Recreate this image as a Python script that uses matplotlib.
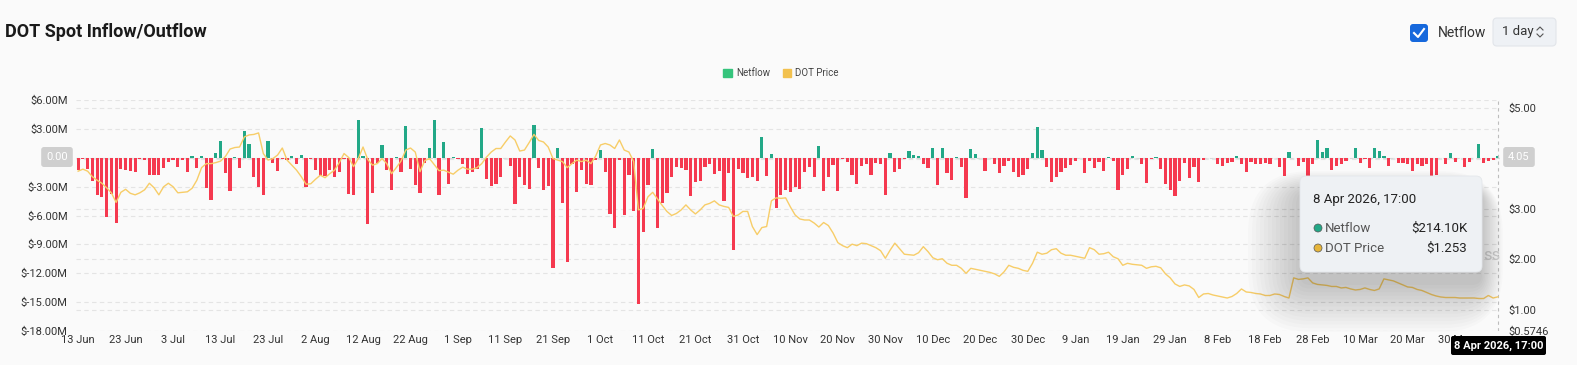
import matplotlib
matplotlib.use("Agg")
import matplotlib.pyplot as plt
import matplotlib.transforms as mtransforms
from matplotlib.patches import FancyBboxPatch, Patch, Circle
from matplotlib.lines import Line2D
import numpy as np
import pandas as pd

plt.rcParams['font.family'] = ['Roboto', 'DejaVu Sans']

# daily netflow in $M, 13 Jun 2025 -> 8 Apr 2026
netflow = [
    -1.25, -0.15, -1.2, -2.4, -3.9, -4.1, -6.2, -3.8, -6.8, -1.2,
    -1.3, -1.4, -1.5, -0.1, -0.2, -1.8, -1.8, -1.8, -1.1, -0.4,
    -0.2, -1.0, -0.2, -1.5, 0.2, -1.1, 0.2, -3.1, -4.4, 0.5,
    1.7, -1.6, -3.5, 0.05, -1.1, 2.8, 1.4, -2.0, -3.0, -3.9,
    1.7, -0.55, -1.35, -0.1, -0.2, 0.2, -0.7, 0.3, -3.0, -0.1,
    -1.25, -1.9, -1.9, -1.25, -2.0, -1.5, -0.15, -3.8, -3.85, 3.95,
    0.2, -6.9, -3.7, -0.5, 1.3, -1.25, -3.35, 0.07, -1.5, 3.3,
    -1.2, -2.8, -3.7, -0.5, 1.05, 3.95, -3.85, 1.65, -2.75, 0.1,
    -0.15, -0.65, -1.7, -1.5, -1.2, 3.05, -2.2, -2.9, -2.75, -2.0,
    -0.05, -0.9, -4.85, -2.0, -2.85, -3.2, 3.4, -1.05, -3.4, -2.9,
    -11.45, 1.0, -4.65, -10.8, -0.65, -3.6, -1.25, -2.75, -2.8, -0.25,
    0.85, -1.45, -5.85, -7.25, -0.25, -5.9, -1.8, -5.5, -15.2, -7.7,
    -2.85, 0.9, -7.3, -4.65, -3.65, -2.0, -0.95, -1.05, -1.25, -3.95,
    -2.5, -2.4, -0.95, -0.6, -1.7, -1.35, -4.5, -1.6, -9.6, -1.2,
    -1.55, -2.1, -1.95, -2.45, 2.2, -1.9, 0.35, -5.2, -3.85, -3.4,
    -3.6, -3.0, -3.2, -1.5, -0.95, -1.95, 1.25, -3.5, -2.05, -0.75,
    -3.5, -0.15, -0.4, -1.8, -2.75, -0.85, -0.65, -1.75, -0.5, -0.65,
    -3.9, 0.5, -1.45, -1.2, -0.1, 0.75, 0.3, 0.15, -0.7, -1.1,
    1.0, -2.85, 1.0, -1.6, -2.3, 0.1, -1.0, -4.2, 0.9, 0.35,
    -0.05, -1.35, -0.05, -0.6, -1.6, -0.9, -0.3, -1.5, -2.05, -1.8,
    -1.2, 0.45, 3.15, 0.85, -1.0, -2.5, -2.05, -1.5, -1.05, -0.75,
    -0.3, -0.05, -1.6, -0.35, -1.1, -0.4, -1.4, 0.03, -0.3, -3.35,
    -1.75, -1.2, 0.15, -0.05, -0.7, -2.6, -0.1, 0.1, -1.2, -2.75,
    -3.3, -3.95, -2.4, -0.5, -2.1, -1.0, -2.55, -0.25, -0.03, -0.03,
    -0.65, -0.85, -0.5, -0.4, 0.15, -0.6, -1.45, -0.4, -0.6, -0.65,
    -0.5, -0.7, -0.05, -1.0, -1.85, 0.6, -0.05, -0.85, -0.4, -1.95,
    -0.65, 1.85, 0.6, 1.05, -1.25, -0.85, -0.7, -0.3, -0.05, 1.0,
    -0.55, -0.1, -1.05, 1.0, 0.65, 0.15, -0.9, -0.05, -0.5, -0.5,
    -0.7, -1.35, -0.7, -0.9, -0.65, -1.85, -1.75, -0.05, -0.65, 0.45,
    -0.4, -0.05, -0.95, -0.4, -0.05, 1.4, -0.55, -0.3, -0.25, 0.2141,
]

# DOT price in $
price = [
    3.75, 3.79, 3.75, 3.64, 3.57, 3.51, 3.42, 3.32, 3.13, 3.33,
    3.39, 3.31, 3.28, 3.32, 3.38, 3.51, 3.42, 3.28, 3.44, 3.51,
    3.44, 3.32, 3.33, 3.34, 3.41, 3.57, 3.82, 3.90, 3.90, 3.92,
    3.95, 4.04, 4.19, 4.22, 4.23, 4.43, 4.47, 4.48, 4.51, 4.10,
    3.97, 4.00, 4.07, 4.21, 3.97, 3.87, 3.77, 3.64, 3.49, 3.50,
    3.59, 3.67, 3.62, 3.70, 3.77, 3.92, 4.10, 4.02, 3.84, 4.00,
    4.23, 3.98, 3.87, 3.90, 4.00, 3.90, 3.70, 3.82, 3.95, 4.17,
    4.21, 4.13, 3.74, 3.96, 4.00, 3.88, 3.76, 3.77, 3.73, 3.69,
    3.77, 3.83, 3.79, 3.79, 3.82, 3.90, 4.03, 4.13, 4.20, 4.20,
    4.33, 4.45, 4.37, 4.15, 4.17, 4.32, 4.48, 4.36, 4.33, 4.23,
    4.00, 3.97, 3.94, 3.82, 3.90, 3.97, 3.94, 3.97, 3.90, 4.05,
    4.27, 4.30, 4.27, 4.20, 4.37, 4.17, 4.13, 3.94, 2.98, 3.01,
    3.24, 3.33, 3.20, 3.07, 2.95, 2.87, 2.91, 2.98, 3.08, 2.98,
    2.90, 2.98, 3.08, 3.11, 3.16, 3.08, 3.05, 3.03, 2.85, 2.88,
    2.95, 2.95, 2.65, 2.49, 2.63, 2.65, 3.16, 3.22, 3.21, 3.22,
    3.04, 2.88, 2.80, 2.78, 2.78, 2.72, 2.64, 2.73, 2.67, 2.52,
    2.33, 2.27, 2.23, 2.30, 2.27, 2.32, 2.31, 2.27, 2.23, 2.17,
    2.02, 2.18, 2.32, 2.21, 2.10, 2.09, 2.08, 2.13, 2.25, 2.15,
    2.03, 1.99, 2.01, 1.92, 1.88, 1.88, 1.82, 1.72, 1.82, 1.80,
    1.78, 1.76, 1.74, 1.71, 1.66, 1.75, 1.88, 1.84, 1.82, 1.78,
    1.76, 1.92, 2.14, 2.10, 2.12, 2.19, 2.21, 2.12, 2.08, 2.08,
    2.06, 2.04, 2.02, 2.23, 2.19, 2.10, 2.11, 2.14, 2.05, 2.01,
    1.88, 1.92, 1.90, 1.89, 1.88, 1.82, 1.85, 1.86, 1.83, 1.71,
    1.63, 1.51, 1.46, 1.49, 1.47, 1.40, 1.24, 1.31, 1.32, 1.29,
    1.27, 1.25, 1.23, 1.26, 1.32, 1.41, 1.35, 1.34, 1.32, 1.31,
    1.28, 1.28, 1.31, 1.30, 1.26, 1.23, 1.63, 1.60, 1.61, 1.63,
    1.53, 1.50, 1.49, 1.48, 1.46, 1.46, 1.43, 1.44, 1.41, 1.39,
    1.40, 1.43, 1.40, 1.38, 1.41, 1.61, 1.59, 1.57, 1.53, 1.49,
    1.45, 1.44, 1.40, 1.38, 1.34, 1.30, 1.27, 1.25, 1.24, 1.24,
    1.24, 1.23, 1.23, 1.23, 1.23, 1.22, 1.22, 1.28, 1.23, 1.253,
]

dates = pd.date_range('2025-06-13', periods=len(netflow), freq='D')
tick_labels = [f"{d.day} {d.strftime('%b')}" for d in dates[::10]]
left_ticks = [6, 3, 0, -3, -6, -9, -12, -15, -18]
right_ticks = [5, 3, 2, 1, 0.5746]

RED = '#f5394f'
GREEN = '#22a887'
YELLOW = '#f7cd68'
BG = '#fafafa'

W, H = 1577, 365
fig = plt.figure(figsize=(W / 100, H / 100), dpi=100, facecolor=BG)


def fx(px):
    return px / W


def fy(py):
    return 1 - py / H


def rbox(x0, y0, x1, y1, r, **kw):
    p = FancyBboxPatch((x0 / 100, (H - y1) / 100), (x1 - x0) / 100, (y1 - y0) / 100,
                       boxstyle=f'round,pad=0,rounding_size={r / 100}',
                       transform=fig.dpi_scale_trans, **kw)
    fig.add_artist(p)
    return p


ax = fig.add_axes([fx(76), fy(331), fx(1500) - fx(76), (331 - 100) / H])
ax.set_facecolor(BG)
x = np.arange(len(netflow))
vals = np.array(netflow) * 1e6
colors = [GREEN if v >= 0 else RED for v in netflow]
ax.bar(x, vals, width=0.68, color=colors, zorder=3)
ax.set_xlim(-0.45, len(netflow) - 0.55)
ax.set_ylim(-18e6, 6e6)

ax2 = ax.twinx()
ax2.plot(x, price, color=YELLOW, lw=1.0, zorder=4)
ax2.set_ylim(0.5746, 5.164)

# grid lines from both axes, behind the bars
grid_kw = dict(color='#e4e4e4', lw=0.8, ls=(0, (4, 3)), zorder=1)
for v in left_ticks:
    ax.axhline(v * 1e6, **grid_kw)
blend = mtransforms.blended_transform_factory(ax.transAxes, ax2.transData)
for p in [5, 4, 3, 2, 1]:
    ax.plot([0, 1], [p, p], transform=blend, **grid_kw)

ax.axhline(0, color='#d8d8d8', lw=0.8, ls=(0, (3, 3)), zorder=2)
ax.axvline(x[-1], color='#bdbdbd', lw=0.8, ls=(0, (3, 3)), zorder=5)

ax.set_yticks([v * 1e6 for v in left_ticks])
ax.set_yticklabels(['' if v == 0 else f'${v:.2f}M' for v in left_ticks])
ax.set_xticks(x[::10])
ax.set_xticklabels(tick_labels)
ax.tick_params(axis='y', length=0, pad=6, labelsize=8, labelcolor='#333333')
ax.tick_params(axis='x', length=0, pad=3, labelsize=8, labelcolor='#333333')
ax2.set_yticks(right_ticks)
ax2.set_yticklabels([f'${p:.4f}' if p < 1 else f'${p:.2f}' for p in right_ticks])
ax2.tick_params(axis='y', length=0, pad=6, labelsize=8, labelcolor='#333333')
for a in (ax, ax2):
    for s in a.spines.values():
        s.set_visible(False)

# crosshair value boxes
box_kw = dict(boxstyle='round,pad=0.45,rounding_size=0.25', fc='#cfcfcf', ec='none')
fig.text(fx(57), fy(157), '0.00', ha='center', va='center', color='white', fontsize=8, bbox=box_kw)
fig.text(fx(1519), fy(157), '4.05', ha='center', va='center', color='white', fontsize=8, bbox=box_kw)

# title and controls
fig.text(fx(5), fy(32), 'DOT Spot Inflow/Outflow', fontsize=13, fontweight='bold',
         color='#1a1a1a', va='center', ha='left')
rbox(1410, 24, 1428, 42, 3, fc='#1668dc', ec='none')
fig.add_artist(Line2D(np.array([1414, 1418, 1424]) / 100, (H - np.array([33, 37, 29])) / 100,
                      transform=fig.dpi_scale_trans, color='white', lw=1.5))
fig.text(fx(1438), fy(33), 'Netflow', fontsize=10, color='#333333', va='center')
rbox(1493, 18, 1556, 46, 4, fc='#eef1f5', ec='#e2e5ea', lw=0.8)
fig.text(fx(1502), fy(32), '1 day', fontsize=9.5, color='#333333', va='center')
fig.add_artist(Line2D(np.array([1537, 1540, 1543]) / 100, (H - np.array([30, 27, 30])) / 100,
                      transform=fig.dpi_scale_trans, color='#555555', lw=0.8))
fig.add_artist(Line2D(np.array([1537, 1540, 1543]) / 100, (H - np.array([34, 37, 34])) / 100,
                      transform=fig.dpi_scale_trans, color='#555555', lw=0.8))

# legend
handles = [Patch(color='#35c47c'), Patch(color='#f2c14e')]
fig.legend(handles, ['Netflow', 'DOT Price'], loc='center', bbox_to_anchor=(fx(781), fy(73)),
           ncol=2, frameon=False, fontsize=7, handlelength=0.9, handleheight=0.9,
           columnspacing=1.3, handletextpad=0.4, labelcolor='#444444')

# tail of the watermark, the rest sits behind the tooltip
fig.text(fx(1483), fy(255), 'ss', fontsize=12, color='#d2d2d2', ha='left', va='center', zorder=2)

# tooltip shadow + box
for k in range(14):
    g = 4 * k
    rbox(1300 - g, 192 - g * 0.4, 1482 + g * 0.4, 285 + g * 0.9, 10 + g,
         fc='black', ec='none', alpha=0.014, zorder=8)
rbox(1300, 176, 1482, 272, 6, fc='#eef1f4', ec='#e4e7eb', lw=0.6, zorder=10)
fig.text(fx(1313), fy(200), '8 Apr 2026, 17:00', fontsize=9.5, color='#222222', va='center', zorder=11)
for yy, c, lab, val in [(228, GREEN, 'Netflow', '$214.10K'), (248, '#e6b53a', 'DOT Price', '$1.253')]:
    fig.add_artist(Circle((1318 / 100, (H - yy) / 100), 0.04, transform=fig.dpi_scale_trans,
                          fc=c, ec='#555555', lw=0.5, zorder=11))
    fig.text(fx(1325), fy(yy), lab, fontsize=9.5, color='#555555', va='center', zorder=11)
    fig.text(fx(1467), fy(yy), val, fontsize=9.5, color='#222222', va='center', ha='right', zorder=11)

# x crosshair date box
rbox(1451, 336, 1546, 355, 2, fc='black', ec='none', zorder=10)
fig.text(fx(1498.5), fy(345.5), '8 Apr 2026, 17:00', fontsize=8, color='white', fontweight='bold',
         ha='center', va='center', zorder=11)

fig.savefig('out.png', dpi=100, facecolor=BG)
